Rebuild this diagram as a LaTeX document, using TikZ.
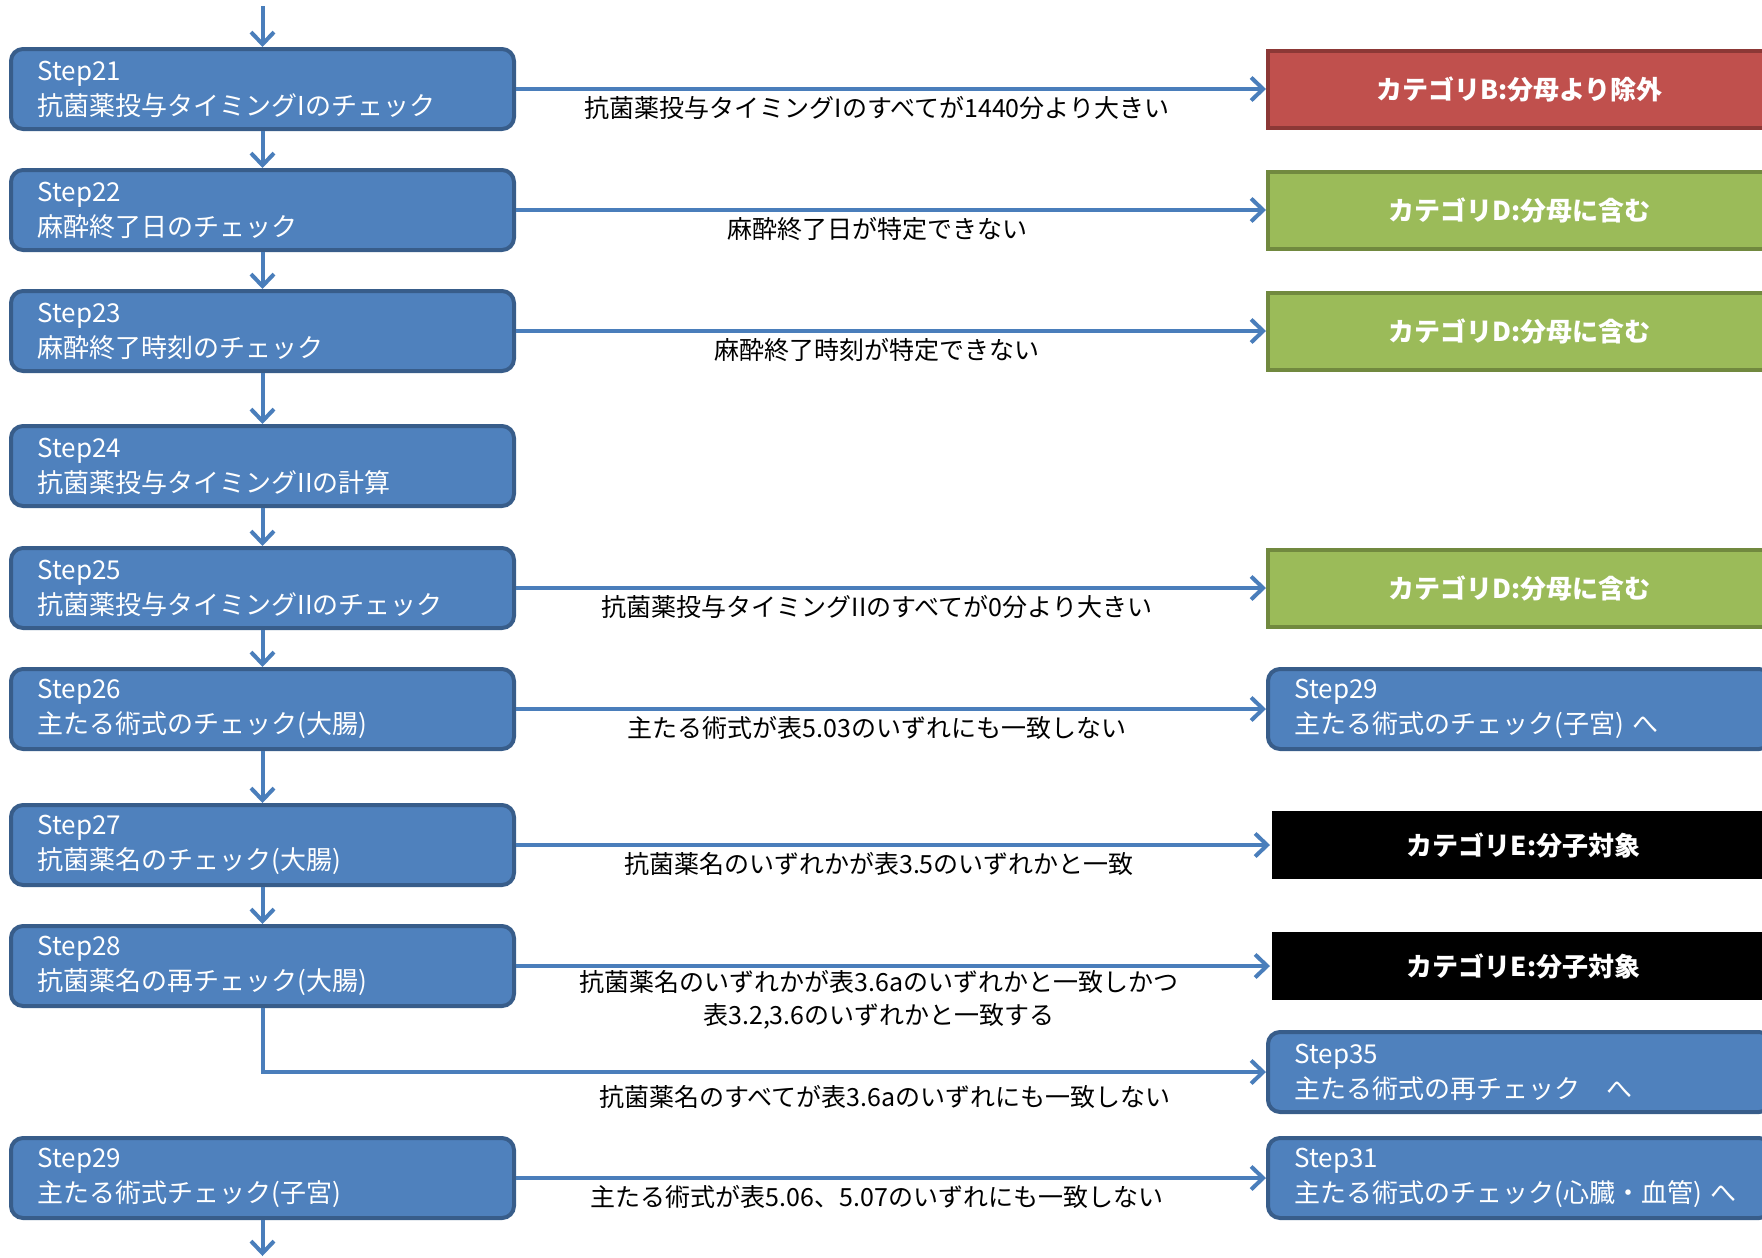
\documentclass[tikz,border=0pt]{standalone}
\usepackage{fontspec}
\setmainfont{Noto Sans CJK JP}
\usetikzlibrary{arrows.meta}
\definecolor{stepblue}{HTML}{4F81BD}
\definecolor{stepedge}{HTML}{385D8A}
\definecolor{linkblue}{HTML}{4A7EBB}
\definecolor{catred}{HTML}{C0504D}
\definecolor{catrededge}{HTML}{8C3836}
\definecolor{catgreen}{HTML}{9BBB59}
\definecolor{catgreenedge}{HTML}{71893F}
\begin{document}
\begin{tikzpicture}[x=0.5pt,y=-0.5pt,
    stepbox/.style={draw=stepedge, line width=2pt, fill=stepblue, rounded corners=6pt,
        minimum width=251.5pt, minimum height=40pt, text width=225pt, inner xsep=13pt,
        align=left, text=white, font=\fontsize{13}{17.5}\selectfont},
    catbox/.style={line width=2pt, minimum width=251.5pt, minimum height=38.5pt,
        text=white, font=\fontsize{13}{16}\selectfont\bfseries},
    catB/.style={catbox, draw=catrededge, fill=catred},
    catD/.style={catbox, draw=catgreenedge, fill=catgreen},
    catE/.style={catbox, fill=black, minimum height=34pt},
    link/.style={draw=linkblue, line width=2pt, -{Straight Barb[length=6pt,width=11.5pt]}},
    lbl/.style={midway, yshift=-9.5pt, xshift=-7pt, font=\fontsize{12.5}{16.5}\selectfont, align=center}
    ]
    \useasboundingbox (0,0) rectangle (1762,1258);
    \clip (0,0) rectangle (1762,1258);
        % left column
        \node[stepbox] at (262.5, 89) (s21) {Step21\\抗菌薬投与タイミングIのチェック};
        \node[stepbox] at (262.5, 210) (s22) {Step22\\麻酔終了日のチェック};
        \node[stepbox] at (262.5, 331) (s23) {Step23\\麻酔終了時刻のチェック};
        \node[stepbox] at (262.5, 466) (s24) {Step24\\抗菌薬投与タイミングIIの計算};
        \node[stepbox] at (262.5, 588) (s25) {Step25\\抗菌薬投与タイミングIIのチェック};
        \node[stepbox] at (262.5, 709) (s26) {Step26\\主たる術式のチェック(大腸)};
        \node[stepbox] at (262.5, 845) (s27) {Step27\\抗菌薬名のチェック(大腸)};
        \node[stepbox] at (262.5, 966) (s28) {Step28\\抗菌薬名の再チェック(大腸)};
        \node[stepbox] at (262.5, 1178) (s29) {Step29\\主たる術式チェック(子宮)};
        \coordinate (in) at (262.5, 6);
        \coordinate (out) at (262.5, 1256);
        % right column
        \node[catB] at (1519.5, 89) (c21) {カテゴリB:分母より除外};
        \node[catD] at (1519.5, 210) (c22) {カテゴリD:分母に含む};
        \node[catD] at (1519.5, 331) (c23) {カテゴリD:分母に含む};
        \node[catD] at (1519.5, 588) (c25) {カテゴリD:分母に含む};
        \node[stepbox] at (1519.5, 709) (n29) {Step29\\主たる術式のチェック(子宮) へ};
        \node[catE] at (1523.5, 845) (c27) {カテゴリE:分子対象};
        \node[catE] at (1523.5, 966) (c28) {カテゴリE:分子対象};
        \node[stepbox] at (1519.5, 1072) (n35) {Step35\\主たる術式の再チェック　へ};
        \node[stepbox] at (1519.5, 1178) (n31) {Step31\\主たる術式のチェック(心臓・血管) へ};
        % down the steps
        \draw[link] (in) -- (s21);
        \draw[link] (s21) -- (s22);
        \draw[link] (s22) -- (s23);
        \draw[link] (s23) -- (s24);
        \draw[link] (s24) -- (s25);
        \draw[link] (s25) -- (s26);
        \draw[link] (s26) -- (s27);
        \draw[link] (s27) -- (s28);
        \draw[link] (s29) -- (out);
        % to the right
        \draw[link] (s21) -- (c21) node[lbl] {抗菌薬投与タイミングIのすべてが1440分より大きい};
        \draw[link] (s22) -- (c22) node[lbl] {麻酔終了日が特定できない};
        \draw[link] (s23) -- (c23) node[lbl] {麻酔終了時刻が特定できない};
        \draw[link] (s25) -- (c25) node[lbl] {抗菌薬投与タイミングIIのすべてが0分より大きい};
        \draw[link] (s26) -- (n29) node[lbl] {主たる術式が表5.03のいずれにも一致しない};
        \draw[link] (s27) -- (c27) node[lbl] {抗菌薬名のいずれかが表3.5のいずれかと一致};
        \draw[link] (s28) -- (c28) node[lbl, yshift=-7.25pt] {抗菌薬名のいずれかが表3.6aのいずれかと一致しかつ\\表3.2,3.6のいずれかと一致する};
        \draw[link] (s28) |- (n35) node[lbl, pos=0.81, xshift=7pt, yshift=-3pt] {抗菌薬名のすべてが表3.6aのいずれにも一致しない};
        \draw[link] (s29) -- (n31) node[lbl] {主たる術式が表5.06、5.07のいずれにも一致しない};
\end{tikzpicture}
\end{document}
